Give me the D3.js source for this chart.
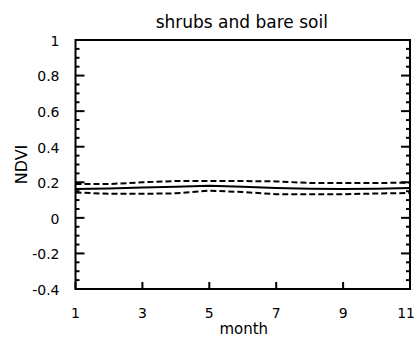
<!DOCTYPE html>
<html><head><meta charset="utf-8">
<script src="https://cdn.jsdelivr.net/npm/d3@7"></script>
<style>body{margin:0;background:#fff}svg{display:block}text{font-family:"DejaVu Sans",sans-serif;fill:#000}</style>
</head><body>
<script>
const months = [1,2,3,4,5,6,7,8,9,10,11];
const meanNDVI  = [0.162,0.165,0.170,0.175,0.180,0.175,0.168,0.163,0.162,0.163,0.168];
const upperNDVI = [0.190,0.190,0.200,0.207,0.207,0.207,0.205,0.196,0.196,0.196,0.198];
const lowerNDVI = [0.143,0.135,0.135,0.138,0.153,0.145,0.133,0.133,0.133,0.137,0.140];
const xTicks = [1,3,5,7,9,11];
const yTicks = [-0.4,-0.2,0,0.2,0.4,0.6,0.8,1];
const title = "shrubs and bare soil", xLabel = "month", yLabel = "NDVI";

const W=417,H=339, L=75.5,R=410,T=40,B=289;
const svg=d3.select("body").append("svg").attr("width",W).attr("height",H);
const x=d3.scaleLinear().domain([1,11]).range([L,R]);
const y=d3.scaleLinear().domain([-0.4,1]).range([B,T]);

const minorY=d3.range(-0.4,1.0001,0.05).map(v=>+v.toFixed(2));
const yt=svg.append("g").attr("stroke","#000").attr("stroke-width",2);
minorY.forEach(v=>{
  const major=yTicks.some(t=>Math.abs(t-v)<1e-6);
  const len=major?9:4;
  yt.append("line").attr("x1",L).attr("x2",L+len).attr("y1",y(v)).attr("y2",y(v));
  yt.append("line").attr("x1",R).attr("x2",R-len).attr("y1",y(v)).attr("y2",y(v));
});
xTicks.forEach(v=>{
  yt.append("line").attr("x1",x(v)).attr("x2",x(v)).attr("y1",B).attr("y2",B-7);
});
svg.append("rect").attr("x",L).attr("y",T).attr("width",R-L).attr("height",B-T)
  .attr("fill","none").attr("stroke","#000").attr("stroke-width",2);

svg.append("g").selectAll("text").data(yTicks).join("text")
  .attr("x",L-16).attr("y",d=>y(d)+1).attr("dy","0.35em").attr("text-anchor","end")
  .attr("font-size",14).text(d=>String(d));
svg.append("g").selectAll("text").data(xTicks).join("text")
  .attr("x",d=>d===11?415:x(d)).attr("y",B+24).attr("dy","0.35em")
  .attr("text-anchor",d=>d===11?"end":"middle")
  .attr("font-size",14).text(d=>d);
svg.append("text").attr("x",(L+R)/2+1).attr("y",334).attr("text-anchor","middle").attr("font-size",15).text(xLabel);
svg.append("text").attr("transform",`translate(27,${y(0.3)}) rotate(-90)`).attr("text-anchor","middle").attr("font-size",16).text(yLabel);
svg.append("text").attr("x",(L+R)/2-1).attr("y",28).attr("text-anchor","middle").attr("font-size",17).text(title);

const line=d3.line().x((d,i)=>x(months[i])).y(d=>y(d));
svg.append("path").datum(meanNDVI).attr("d",line).attr("fill","none").attr("stroke","#000").attr("stroke-width",2);
[upperNDVI,lowerNDVI].forEach(s=>svg.append("path").datum(s).attr("d",line).attr("fill","none")
  .attr("stroke","#000").attr("stroke-width",2).attr("stroke-dasharray","6,3"));
</script>
</body></html>
